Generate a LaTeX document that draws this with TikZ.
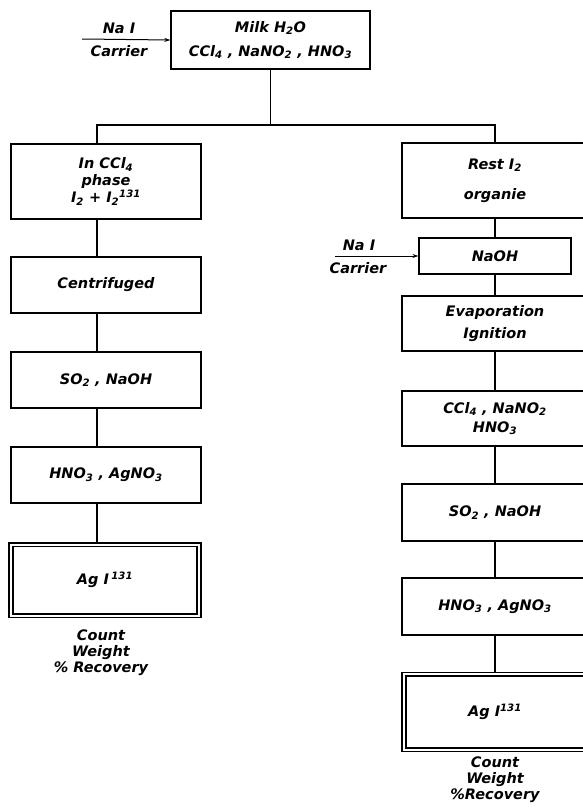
\documentclass[tikz,border=0pt]{standalone}
\usepackage{fontspec}
\setmainfont{DejaVu Sans}
\usetikzlibrary{arrows.meta}
\newcommand{\dn}[1]{\textsubscript{#1}}
\newcommand{\up}[1]{\textsuperscript{#1}}
\begin{document}
\begin{tikzpicture}[x=1pt, y=-1pt, line width=1.3pt,
    font=\fontsize{14.5}{17}\selectfont\bfseries\itshape,
    box/.style={draw, rectangle, align=center, inner sep=0pt},
    endbox/.style={box, double, double distance=2pt, line width=1.6pt},
    feed/.style={line width=1pt, -{Stealth[length=6pt, width=4pt]}},
    result/.style={align=center, font=\fontsize{14.5}{16}\selectfont\bfseries\itshape}]
  \useasboundingbox (0,0) rectangle (583,811);
  \node[box, minimum width=199, minimum height=58] (milk) at (270.5,40) {Milk H\dn{2}O\\[7pt]CCl\dn{4} , NaNO\dn{2} , HNO\dn{3}};
  \coordinate (feedA) at (82,39); \draw[feed] (feedA) -- (milk.west);
  \node (naiA) at (119,28) {Na I}; \node (carrA) at (119,51) {Carrier};
  \coordinate (lx) at (97,125); \coordinate (rx) at (495,125);
  \node[box, minimum width=190, minimum height=75] (incc)  at (106,181.5) {In CCl\dn{4}\\phase\\I\dn{2} + I\dn{2}\up{131}};
  \node[box, minimum width=190, minimum height=56] (centr) at (106,285) {Centrifuged};
  \node[box, minimum width=190, minimum height=56] (so2l)  at (106,380) {SO\dn{2} , NaOH};
  \node[box, minimum width=190, minimum height=56] (hno3l) at (106,475) {HNO\dn{3} , AgNO\dn{3}};
  \node[endbox, minimum width=188, minimum height=71] (agil) at (105,580) {Ag I\,\up{131}};
  \node[result] (resl) at (101,653) {Count\\Weight\\\% Recovery};
  \node[box, minimum width=186, minimum height=75] (rest)  at (495,180.5) {Rest I\dn{2}\\[13pt]organie};
  \node[box, minimum width=152, minimum height=36] (naoh)  at (495,256) {NaOH};
  \node[box, minimum width=186, minimum height=55] (evap)  at (495,323.5) {Evaporation\\[5pt]Ignition};
  \node[box, minimum width=186, minimum height=55] (ccl4r) at (495,418.5) {CCl\dn{4} , NaNO\dn{2}\\[2pt]HNO\dn{3}};
  \node[box, minimum width=186, minimum height=57] (so2r)  at (495,512.5) {SO\dn{2} , NaOH};
  \node[box, minimum width=186, minimum height=57] (hno3r) at (495,606.5) {HNO\dn{3} , AgNO\dn{3}};
  \node[endbox, minimum width=182, minimum height=75.5] (agir) at (495,712) {Ag I\up{131}};
  \node[result] (resr) at (495,780) {Count\\Weight\\\%Recovery};
  \coordinate (feedB) at (335,256); \draw[feed] (feedB) -- (naoh.west);
  \node (naiB) at (359,245) {Na I}; \node (carrB) at (358,268) {Carrier};
  \draw (milk.south) -- (milk.south |- lx);
  \draw (lx |- incc.north) -- (lx) -- (rx) -- (rest.north);
  \foreach \a/\b in {incc/centr, centr/so2l, so2l/hno3l, hno3l/agil}
    \draw (lx |- \a.south) -- (lx |- \b.north);
  \foreach \a/\b in {rest/naoh, naoh/evap, evap/ccl4r, ccl4r/so2r, so2r/hno3r, hno3r/agir}
    \draw (\a.south) -- (\b.north);
\end{tikzpicture}
\end{document}
